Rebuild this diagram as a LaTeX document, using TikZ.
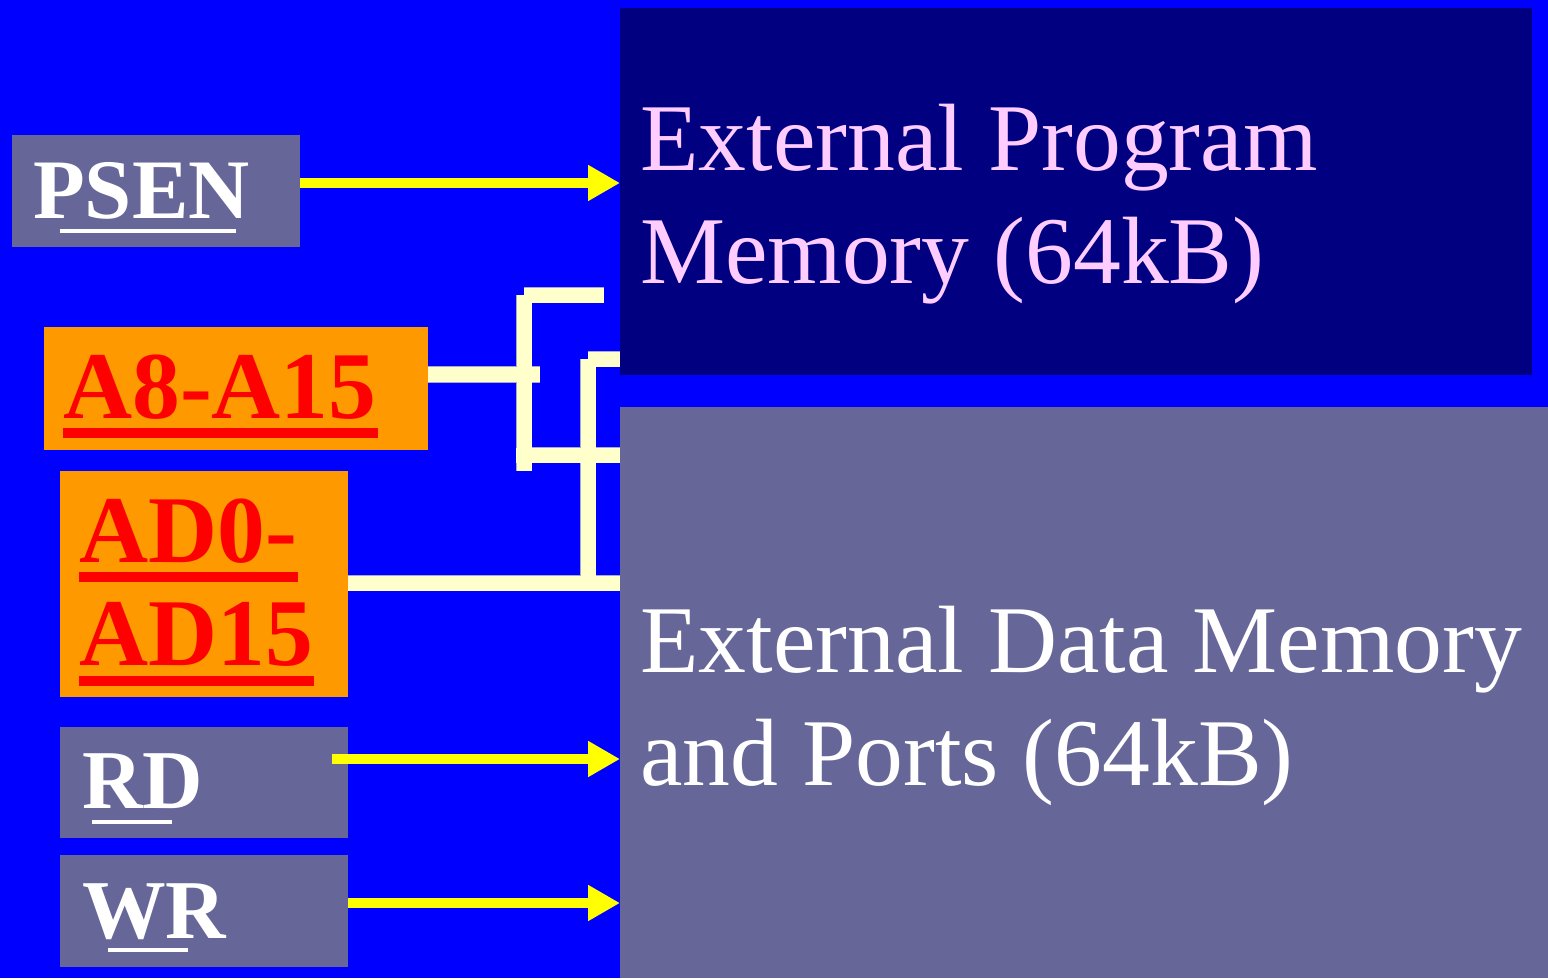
\documentclass[tikz,border=0pt]{standalone}
\usepackage{fontspec}
\setmainfont{Liberation Serif}
\usetikzlibrary{arrows.meta}
\definecolor{bgblue}{HTML}{0000FF}
\definecolor{navy}{HTML}{000080}
\definecolor{slate}{HTML}{666699}
\definecolor{amber}{HTML}{FF9900}
\definecolor{sigred}{HTML}{FF0000}
\definecolor{sigyellow}{HTML}{FFFF00}
\definecolor{buscream}{HTML}{FFFFCC}
\definecolor{busedge}{HTML}{A8A8C8}
\definecolor{pinktext}{HTML}{FFCCFF}
\begin{document}
\begin{tikzpicture}[x=1bp,y=-1bp,
  panel/.style={draw=none,inner sep=0pt,outer sep=0pt,anchor=north west},
  memtext/.style={anchor=base west,inner sep=0pt,font=\fontsize{96}{113}\selectfont},
  pintext/.style={anchor=base west,inner sep=0pt,text=white,font=\bfseries\fontsize{84}{100}\selectfont},
  bustext/.style={anchor=base west,inner sep=0pt,text=sigred,font=\bfseries\fontsize{96}{104}\selectfont},
  sig/.style={draw=sigyellow,line width=10bp,-{Triangle[length=32bp,width=34bp]}},
  busedge/.style={draw=busedge,line width=16.5bp},
  buswire/.style={draw=buscream,line width=15bp}]
\useasboundingbox (0,0) rectangle (1548,978);
\fill[bgblue] (0,0) rectangle (1548,978);

% memory blocks
\node[panel,fill=navy,minimum width=912bp,minimum height=367bp] (pmem) at (620,8) {};
\node[panel,fill=slate,minimum width=928bp,minimum height=571bp] (dmem) at (620,407) {};
\node[memtext,text=pinktext] (pm1) at (640,170) {External Program};
\node[memtext,text=pinktext] (pm2) at (640,283) {Memory (64kB)};
\node[memtext,text=white] (dm1) at (640,672) {External Data Memory};
\node[memtext,text=white] (dm2) at (640,785) {and Ports (64kB)};

% control and bus pins
\node[panel,fill=slate,minimum width=288bp,minimum height=112bp] (psen) at (12,135) {};
\node[panel,fill=amber,minimum width=384bp,minimum height=123bp] (a8) at (44,327) {};
\node[panel,fill=amber,minimum width=288bp,minimum height=226bp] (ad) at (60,471) {};
\node[panel,fill=slate,minimum width=288bp,minimum height=111bp] (rd) at (60,727) {};
\node[panel,fill=slate,minimum width=288bp,minimum height=112bp] (wr) at (60,855) {};

\node[pintext,font=\bfseries\fontsize{85}{100}\selectfont] (psent) at (33,218) {PSEN};
\fill[white] (60,229) rectangle (236,233);
\node[bustext] (a8t) at (63,418) {A8-A15};
\fill[sigred] (63,428) rectangle (378,438);
\node[bustext] (adt1) at (79,562) {AD0-};
\fill[sigred] (79,572) rectangle (298,582);
\node[bustext] (adt2) at (79,665) {AD15};
\fill[sigred] (79,676) rectangle (314,686);
\node[pintext] (rdt) at (82,808) {RD};
\fill[white] (92,820) rectangle (172,824);
\node[pintext] (wrt) at (82,938) {WR};
\fill[white] (108,948) rectangle (188,952);

% address and data buses
\coordinate (j1) at (524,374.5);
\coordinate (j2) at (588,583);
\foreach \s in {busedge,buswire}{
  \draw[\s] (a8.east |- j1) -- (540,374.5);
  \draw[\s] (524,295) -- (524,471);
  \draw[\s] (524,295) -- (604,295);
  \draw[\s] (516,455) -- (pmem.west |- 0,455);
  \draw[\s] (588,359) -- (588,583);
  \draw[\s] (588,359) -- (pmem.west |- 0,359);
  \draw[\s] (ad.east |- j2) -- (dmem.west |- j2);
}

% control strobes
\draw[sig] (psen.east |- 0,183) -- (pmem.west |- 0,183);
\draw[sig] (332,759) -- (dmem.west |- 0,759);
\draw[sig] (wr.east |- 0,903) -- (dmem.west |- 0,903);
\end{tikzpicture}
\end{document}
